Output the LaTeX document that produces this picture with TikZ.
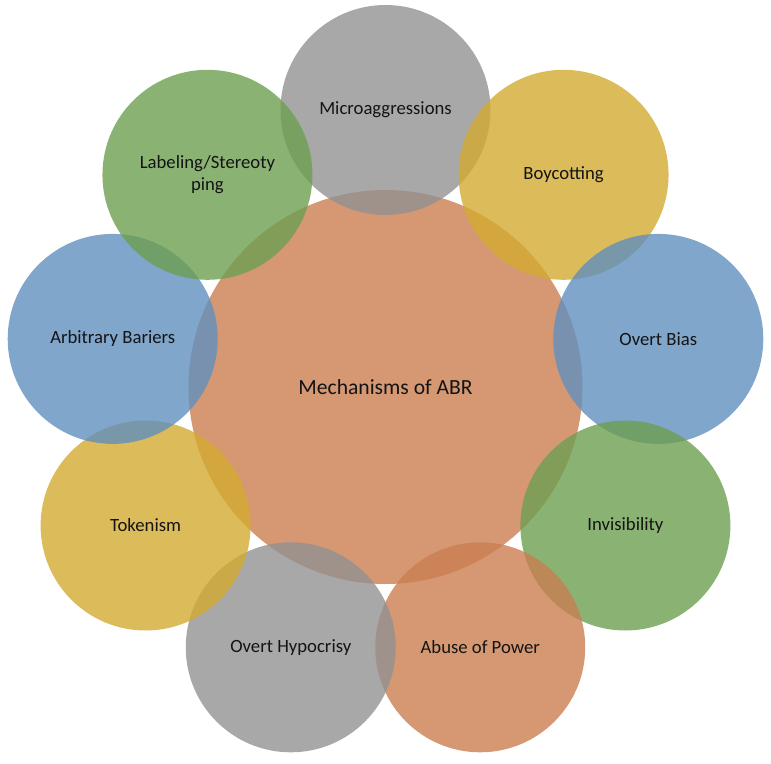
\documentclass[tikz,border=0pt]{standalone}
\usepackage{fontspec}
\setmainfont{Carlito}
\usetikzlibrary{calc}
\definecolor{cOrange}{RGB}{202,126,80}
\definecolor{cGray}{RGB}{146,146,146}
\definecolor{cGold}{RGB}{211,171,49}
\definecolor{cBlue}{RGB}{96,144,191}
\definecolor{cGreen}{RGB}{109,159,80}
\definecolor{cText}{RGB}{20,20,20}
\tikzset{
  bubble/.style={circle, minimum size=210pt, inner sep=0pt, draw=none,
    fill opacity=0.8, text opacity=1, text=cText, align=center,
    font=\fontsize{18.7}{22}\selectfont},
  hub/.style={circle, minimum size=394pt, inner sep=0pt, draw=none,
    fill=cOrange, fill opacity=0.8, text opacity=1, text=cText,
    font=\fontsize{21.6}{26}\selectfont}
}
\begin{document}
\begin{tikzpicture}[x=1pt,y=-1pt]
\useasboundingbox (0,0) rectangle (771,763);
\coordinate (c) at (385.5,387);
\node[hub] (hub) at (c) {Mechanisms of ABR};
\node[bubble, fill=cGray]   (micro)  at ($(c)+(-90:277)$)  {Microaggressions};
\node[bubble, fill=cGold]   (boy)    at ($(c)+(-50:277)$)  {Boycotting};
\node[bubble, fill=cBlue]   (obias)  at ($(c)+(-10:277)$)  {Overt Bias};
\node[bubble, fill=cGreen]  (invis)  at ($(c)+(30:277)$)   {Invisibility};
\node[bubble, fill=cOrange] (abuse)  at ($(c)+(70:277)$)   {Abuse of Power};
\node[bubble, fill=cGray]   (hypo)   at ($(c)+(110:277)$)  {Overt Hypocrisy};
\node[bubble, fill=cGold]   (token)  at ($(c)+(150:277)$)  {Tokenism};
\node[bubble, fill=cBlue]   (arb)    at ($(c)+(190:277)$)  {Arbitrary Bariers};
\node[bubble, fill=cGreen]  (label)  at ($(c)+(230:277)$)  {Labeling/Stereoty\\ping};
\end{tikzpicture}
\end{document}
